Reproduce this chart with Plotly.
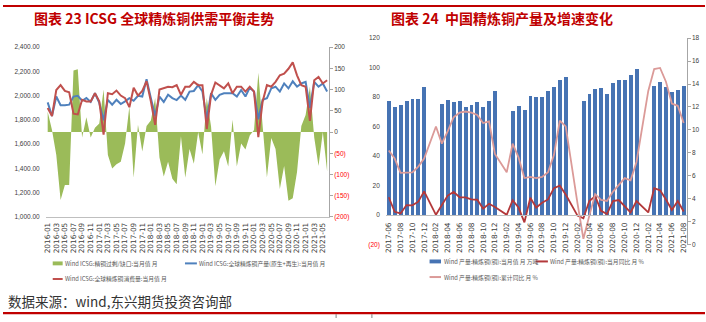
import plotly.graph_objects as go

W, H = 706, 322
def fx(x): return x / W
def fy(y): return 1 - y / H

# ---------------- Left chart data (ICSG) ----------------
months_l = [f"{y}-{m:02d}" for y in range(2016, 2022) for m in range(1, 13)][:66]
production = [1945, 1832, 1993, 1921, 1921, 1926, 1993, 1999, 1958, 1980, 1948, 2020,
              1940, 1797, 1966, 1926, 1966, 1931, 1953, 1980, 1958, 1999, 1993, 2136,
              1980, 1832, 1993, 1948, 2007, 1980, 1964, 2001, 1966, 2034, 2039, 2087,
              2034, 1805, 2020, 1966, 2007, 2020, 2020, 2020, 1993, 2047, 1993, 2066,
              2034, 1805, 1966, 1980, 2060, 2074, 2034, 2101, 2060, 2119, 2074, 2101,
              2114, 1899, 2114, 2074, 2101, 2034]
consumption = [1899, 1832, 2047, 2087, 2039, 2028, 1851, 1845, 1966, 1953, 1953, 2020,
               1953, 1679, 2020, 2012, 2042, 2001, 1980, 1905, 2066, 2001, 2039, 2119,
               1953, 1760, 2050, 2060, 2074, 2070, 2087, 2007, 2074, 2074, 2114, 2087,
               2087, 1725, 2007, 2109, 2087, 2060, 2101, 2020, 2074, 2074, 2034, 2074,
               2034, 1657, 1953, 2087, 2074, 2114, 2168, 2181, 2222, 2275, 2168, 2087,
               2074, 1792, 2127, 2154, 2101, 2127]
balance = [48, 5, -54, -160, -125, -125, 145, 148, -13, 35, -13, 10,
           20, 100, -54, -86, -76, -70, -27, 60, -108, 17, -46, 14,
           27, 80, -60, -105, -70, -110, -123, -10, -108, -40, -75, 0,
           -53, 80, 13, -128, -65, -45, -81, 29, -81, -27, -41, -8,
           5, 140, 15, -107, -14, -40, -134, -80, -162, -156, -94, 14,
           40, 107, -13, -80, 0, -93]

# ---------------- Right chart data (China refined copper) ----------------
months_r = [f"{y}-{m:02d}" for y in range(2017, 2022) for m in range(1, 13)][5:56]
output = [77.3, 73.5, 74.8, 77.5, 78.3, 78.8, 86.8, None, None, 75.3, 77.9, 76.6,
          77.5, 73.1, 74.8, 76.6, 73.5, 77.0, 84.1, None, None, 70.4, 74.0, 71.3,
          80.6, 80.1, 80.1, 84.1, 86.8, 91.2, 93.5, None, None, 77.3, 82.1, 85.6,
          86.3, 81.7, 89.4, 91.2, 91.6, 94.7, 98.7, None, None, 87.2, 90.3, 86.8,
          83.7, 84.5, 87.6]
yoy_month = [12.1, 2.2, 1.1, 6.8, 6.6, 9.1, 16.1, None, 0.2, 6.8, 13.2, 15.7,
             12.1, 12.0, 10.6, 10.4, 4.4, 7.7, 5.5, None, 0.2, 10.1, 5.1, -4.9,
             11.7, 5.1, 8.4, 10.6, 18.3, 19.9, 13.9, None, -0.4, -2.2, 9.5, 12.8,
             2.9, 0.7, 9.5, 10.2, 6.2, 1.8, 9.5, None, 1.8, 18.3, 16.8, 10.6,
             3.5, 9.5, 2.4]
yoy_cum = [8.2, 7.5, 6.25, 6.25, 6.3, 6.8, 7.5, None, 10.3, 8.8, 9.9, 11.1,
           11.5, 11.6, 11.5, 11.3, 10.6, 10.75, 7.9, None, 6.3, 8.8, 7.6, 5.8,
           5.9, 5.8, 5.9, 6.3, 7.8, 10.8, 10.3, None, 3.6, 0.5, 2.5, 4.4,
           3.9, 3.8, 4.6, 5.2, 5.8, 5.6, 7.2, None, 13.4, 15.3, 15.4, 14.2,
           12.3, 12.1, 10.6]

# ---------------- tick labels ----------------
left_ticks = [1000, 1200, 1400, 1600, 1800, 2000, 2200, 2400]
bal_ticks = [-200, -150, -100, -50, 0, 50, 100, 150, 200]
out_ticks = [-20, 0, 20, 40, 60, 80, 100, 120]
pct_ticks = [0, 2, 4, 6, 8, 10, 12, 14, 16, 18]

RED_LBL = "#FF0000"
def neg_label(v):
    if v < 0:
        return f'<span style="color:{RED_LBL}">({abs(v)})</span>'
    return str(v)

GREEN, BLUE, RED = "#9BBB59", "#4F81BD", "#C0504D"
BAR, DRED, PINK = "#4673B3", "#B3383A", "#DB9A98"
TICK_FONT = dict(family="Liberation Sans Narrow, Liberation Sans, Arial", size=6.5, color="#404040")
XTICK_FONT = dict(family="DejaVu Sans", size=7.3, color="#404040")
CJK = "Noto Sans CJK SC"

fig = go.Figure()
# left chart
fig.add_trace(go.Scatter(x=months_l, y=balance, mode="lines", fill="tozeroy",
                         fillcolor=GREEN, line=dict(width=0, color=GREEN),
                         xaxis="x", yaxis="y", showlegend=False))
fig.add_trace(go.Scatter(x=months_l, y=production, mode="lines", line=dict(width=2, color=BLUE),
                         xaxis="x", yaxis="y2", showlegend=False))
fig.add_trace(go.Scatter(x=months_l, y=consumption, mode="lines", line=dict(width=2, color=RED),
                         xaxis="x", yaxis="y2", showlegend=False))
# right chart
fig.add_trace(go.Bar(x=months_r, y=output, marker=dict(color=BAR, line=dict(width=0)), width=0.66,
                     xaxis="x2", yaxis="y3", showlegend=False))
fig.add_trace(go.Scatter(x=months_r, y=yoy_month, mode="lines", connectgaps=True,
                         line=dict(width=1.8, color=DRED), xaxis="x2", yaxis="y3", showlegend=False))
fig.add_trace(go.Scatter(x=months_r, y=yoy_cum, mode="lines", connectgaps=True,
                         line=dict(width=1.8, color=PINK), xaxis="x2", yaxis="y4", showlegend=False))

fig.update_layout(
    width=W, height=H, margin=dict(l=0, r=0, t=0, b=0),
    paper_bgcolor="white", plot_bgcolor="rgba(0,0,0,0)",
    showlegend=False, bargap=0,
    xaxis=dict(domain=[fx(43), fx(327.7)], type="category", range=[-0.45, 65.4],
               tickmode="array", tickvals=months_l[::2], tickangle=-90, tickfont=XTICK_FONT,
               showline=True, linecolor="#BFBFBF", linewidth=1, ticks="", showgrid=False,
               anchor="y", ticklabelstandoff=2),
    yaxis=dict(domain=[fy(218.3), fy(44.3)], range=[-200, 200], side="right", anchor="x",
               tickmode="array", tickvals=bal_ticks, ticktext=[neg_label(v) for v in bal_ticks],
               tickfont=TICK_FONT, showline=True, linecolor="#A6A6A6", linewidth=1,
               ticks="outside", ticklen=3, tickcolor="#A6A6A6", showgrid=False, zeroline=False),
    yaxis2=dict(overlaying="y", side="left", anchor="x", range=[1000, 2400],
                tickmode="array", tickvals=left_ticks, tickformat=",.2f",
                tickfont=TICK_FONT, showline=False, ticks="", showgrid=False, zeroline=False,
                ticklabelstandoff=5),
    xaxis2=dict(domain=[fx(385), fx(687.5)], type="category", range=[-0.5, 50.5],
                tickmode="array", tickvals=months_r[::2], tickangle=-90, tickfont=XTICK_FONT,
                showline=True, linecolor="#BFBFBF", linewidth=1, ticks="", showgrid=False,
                anchor="free", position=fy(216), ticklabelstandoff=4),
    yaxis3=dict(domain=[fy(246.7), fy(35)], range=[-20, 120], side="left", anchor="x2",
                tickmode="array", tickvals=out_ticks, ticktext=[neg_label(v) for v in out_ticks],
                tickfont=TICK_FONT, showline=False, ticks="", showgrid=False, zeroline=False,
                ticklabelstandoff=5),
    yaxis4=dict(overlaying="y3", side="right", anchor="x2", range=[0, 18],
                tickmode="array", tickvals=pct_ticks, tickfont=TICK_FONT,
                showline=True, linecolor="#A6A6A6", linewidth=1, ticks="outside", ticklen=3,
                tickcolor="#A6A6A6", showgrid=False, zeroline=False),
)

shapes = [
    dict(type="line", xref="paper", yref="paper", x0=0, x1=1, y0=fy(2), y1=fy(2),
         line=dict(color="#C00000", width=2)),
    dict(type="line", xref="paper", yref="paper", x0=0, x1=1, y0=fy(317), y1=fy(317),
         line=dict(color="#C00000", width=2.2)),
    dict(type="line", xref="paper", yref="paper", x0=fx(335), x1=fx(335), y0=fy(318), y1=0,
         line=dict(color="#808080", width=1)),
    dict(type="line", xref="paper", yref="paper", x0=fx(371), x1=fx(371), y0=fy(318), y1=0,
         line=dict(color="#808080", width=1)),
]
annotations = []

def legend_item(kind, color, x0, x1, y, text):
    if kind == "box":
        shapes.append(dict(type="rect", xref="paper", yref="paper", x0=fx(x0), x1=fx(x1),
                           y0=fy(y + 2), y1=fy(y - 2), fillcolor=color, line=dict(width=0)))
    else:
        shapes.append(dict(type="line", xref="paper", yref="paper", x0=fx(x0), x1=fx(x1),
                           y0=fy(y), y1=fy(y), line=dict(color=color, width=2)))
    annotations.append(dict(x=fx(x1 + 0.5), y=fy(y), xref="paper", yref="paper", text=text,
                            showarrow=False, xanchor="left", yanchor="middle",
                            font=dict(family=CJK, size=5.8, color="#595959")))

legend_item("box", GREEN, 50, 60, 266, "Wind ICSG:精铜过剩/缺口:当月值 月")
legend_item("line", BLUE, 183, 195, 266, "Wind ICSG:全球精炼铜产量(原生+再生):当月值 月")
legend_item("line", RED, 50, 60, 282, "Wind ICSG:全球精炼铜消费量:当月值 月")
legend_item("box", BAR, 429, 440.5, 264, "Wind 产量:精炼铜(铜):当月值 月 万吨")
legend_item("line", DRED, 535.5, 548, 264, "Wind 产量:精炼铜(铜):当月同比 月 %")
legend_item("line", PINK, 429, 440.5, 280, "Wind 产量:精炼铜(铜):累计同比 月 %")

annotations += [
    dict(x=fx(152), y=fy(14), xref="paper", yref="paper", showarrow=False,
         text="<b>图表 23 ICSG 全球精炼铜供需平衡走势</b>", xanchor="center", yanchor="middle",
         font=dict(family=CJK, size=14, color="#C00000")),
    dict(x=fx(502), y=fy(14), xref="paper", yref="paper", showarrow=False,
         text="<b>图表 24  中国精炼铜产量及增速变化</b>", xanchor="center", yanchor="middle",
         font=dict(family=CJK, size=14, color="#C00000")),
    dict(x=fx(3), y=fy(305), xref="paper", yref="paper", showarrow=False,
         text="数据来源：wind,东兴期货投资咨询部", xanchor="left", yanchor="middle",
         font=dict(family=CJK, size=13.5, color="#333333")),
]

fig.update_layout(shapes=shapes, annotations=annotations)
fig.write_html("out.html")
